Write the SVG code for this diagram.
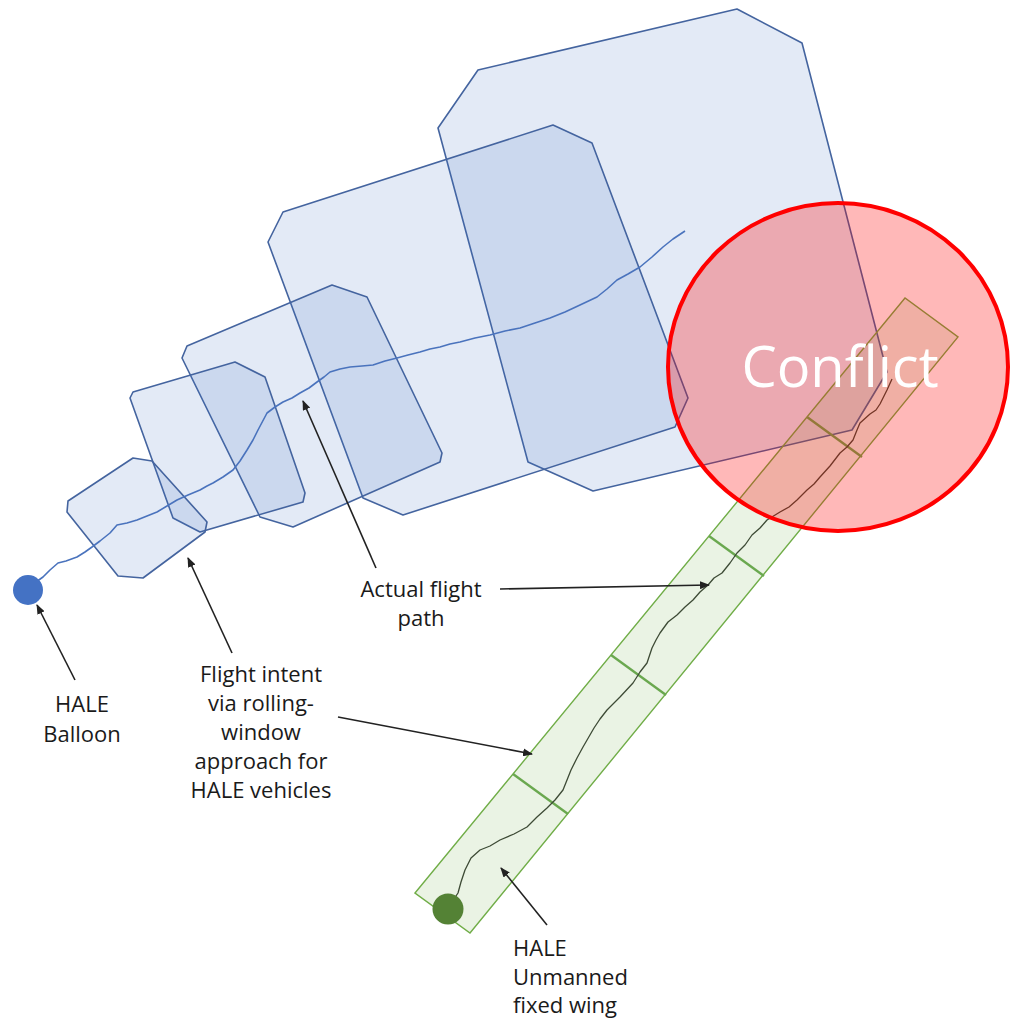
<svg xmlns="http://www.w3.org/2000/svg" width="1010" height="1019" viewBox="0 0 1010 1019">
<defs>
<style>
.zone{fill:#4472c4;fill-opacity:0.15;stroke:#44649f;stroke-width:1.6;stroke-linejoin:round}
.strip{fill:#70ad47;fill-opacity:0.15;stroke:#70ad47;stroke-width:1.4}
.div{stroke:#6aa84f;stroke-width:2.4;fill:none}
.bpath{fill:none;stroke:#4a73bd;stroke-width:1.6;stroke-linejoin:round}
.gpath{fill:none;stroke:#3d4a35;stroke-width:1.3;stroke-linejoin:round}
.lbl{font-family:"Open Sans","Noto Sans",sans-serif;font-size:22px;fill:#1a1a1a}
.ptr{stroke:#222;stroke-width:1.6;fill:none;marker-end:url(#ah)}
</style>
<marker id="ah" markerUnits="userSpaceOnUse" markerWidth="10" markerHeight="8" refX="9" refY="4" orient="auto">
<path d="M0,0 L10,4 L0,8 Z" fill="#222"/>
</marker>
</defs>
<rect width="1010" height="1019" fill="#ffffff"/>
<g id="zones">
<polygon id="zone5" class="zone" points="438,128 478,70 737,9 802,43 887,372 852,430 593,491 528,462"/>
<polygon id="zone4" class="zone" points="268,242 283,212 553,125 592,143 688,398 675,427 403,515 363,498"/>
<polygon id="zone3" class="zone" points="182,358 187,346 332,285 367,297 442,453 440,462 293,527 260,517"/>
<polygon id="zone2" class="zone" points="130,398 133,392 235,362 265,377 305,493 303,502 200,532 173,518"/>
<polygon id="zone1" class="zone" points="67,512 68,501 133,458 152,461 207,522 205,532 143,578 118,576"/>
</g>
<g id="fixedwing-intent">
<polygon class="strip" points="415,893 905,298 958,337 470,933"/>
<line class="div" x1="513" y1="774" x2="568" y2="814"/>
<line class="div" x1="611" y1="655" x2="666" y2="695"/>
<line class="div" x1="709" y1="536" x2="764" y2="576"/>
<line class="div" x1="807" y1="417" x2="862" y2="457"/>
</g>
<g id="balloon-path">
<polyline class="bpath" points="36,582 43,577 50,570 58,563 66,561 77,557 85,552 92,547 100,541 110,533 117,525 127,523 137,520 147,516 157,512 167,506 177,500 188,495 200,490 207,486 213,483 223,477 233,470 240,461 247,450 253,440 258,430 267,413 275,407 283,402 292,398 300,393 309,388 317,382 324,377 330,372 340,369 350,367 362,366 373,365 385,361 397,358 408,355 420,352 430,349 440,347 450,344 460,342 475,338 490,335 505,331 520,328 535,323 550,318 565,312 580,305 597,297 607,289 617,280 628,274 640,267 652,257 663,247 673,239 685,231"/>
</g>
<g id="fixedwing-path">
<polyline class="gpath" points="452,902 458,893 461,882 465,870 471,858 480,850 490,846 500,840 514,834 527,827 537,817 547,808 555,800 563,790 571,770 577,758 583,747 594,728 600,719 607,710 620,697 633,683 640,672 647,663 652,648 656,640 660,633 668,622 677,615 685,607 693,600 700,592 708,585 714,578 722,573 730,563 737,553 745,545 752,535 760,528 767,520 780,512 789,507 797,500 807,490 814,484 820,477 830,466 840,453 847,447 853,440 857,430 860,423 870,414 876,410 880,404 884,396 887,390 892,379"/>
</g>
<g id="balloon">
<circle cx="28" cy="590" r="15" fill="#4472c4"/>
</g>
<g id="fixedwing">
<circle cx="448" cy="909" r="15.5" fill="#548235"/>
</g>
<g id="conflict">
<ellipse cx="838" cy="367" rx="170" ry="164" fill="#ff0000" fill-opacity="0.28" stroke="#ff0000" stroke-width="4"/>
<text x="840" y="387" text-anchor="middle" font-family="'Open Sans','Noto Sans',sans-serif" font-size="56" fill="#ffffff">Conflict</text>
</g>
<g id="connectors">
<line class="ptr" x1="75" y1="680" x2="37" y2="605"/>
<line class="ptr" x1="232" y1="653" x2="188" y2="558"/>
<line class="ptr" x1="376" y1="568" x2="303" y2="401"/>
<line class="ptr" x1="500" y1="589" x2="709" y2="585"/>
<line class="ptr" x1="338" y1="717" x2="532" y2="754"/>
<line class="ptr" x1="547" y1="925" x2="501" y2="868"/>
</g>
<g id="label-balloon">
<text class="lbl" text-anchor="middle"><tspan x="82" y="712">HALE</tspan><tspan x="82" y="742">Balloon</tspan></text>
</g>
<g id="label-actual">
<text class="lbl" text-anchor="middle"><tspan x="421" y="597">Actual flight</tspan><tspan x="421" y="626">path</tspan></text>
</g>
<g id="label-intent">
<text class="lbl" text-anchor="middle"><tspan x="261" y="682">Flight intent</tspan><tspan x="261" y="711">via rolling-</tspan><tspan x="261" y="740">window</tspan><tspan x="261" y="769">approach for</tspan><tspan x="261" y="798">HALE vehicles</tspan></text>
</g>
<g id="label-fixedwing">
<text class="lbl"><tspan x="513" y="956">HALE</tspan><tspan x="513" y="985">Unmanned</tspan><tspan x="513" y="1013">fixed wing</tspan></text>
</g>
</svg>
